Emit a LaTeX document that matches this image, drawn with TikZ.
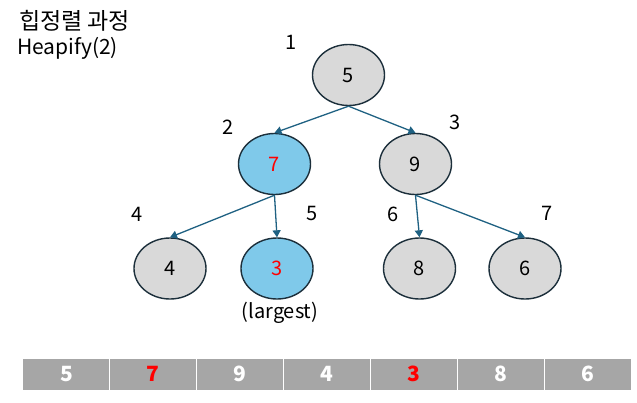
\documentclass[tikz,border=0pt]{standalone}
\usepackage{fontspec}
\setmainfont{Noto Sans CJK KR}
\usetikzlibrary{arrows.meta,shapes.geometric}
\definecolor{nodegray}{HTML}{D9D9D9}
\definecolor{nodeblue}{HTML}{7FC9EA}
\definecolor{rimcol}{HTML}{1C2F3B}
\definecolor{edgecol}{HTML}{1F6182}
\definecolor{cellgray}{HTML}{A6A6A6}
\tikzset{
  heapnode/.style={ellipse, draw=rimcol, line width=1.4pt, fill=nodegray,
    minimum width=72pt, minimum height=61pt, inner sep=0pt, font=\fontsize{20}{24}\selectfont},
  hinode/.style={heapnode, fill=nodeblue, text=red},
  idxlabel/.style={font=\fontsize{20}{24}\selectfont, inner sep=0pt},
  heapedge/.style={draw=edgecol, line width=1.3pt, -{Triangle[length=7pt,width=8pt]}},
  arrcell/.style={fill=cellgray, draw=white, line width=1pt, minimum width=87pt, minimum height=32pt,
    inner sep=0pt, text=white, font=\fontsize{21}{24}\selectfont\bfseries},
}
\begin{document}
\begin{tikzpicture}[x=1pt,y=-1pt]
\useasboundingbox (0,0) rectangle (637,402);
% title
\node[anchor=west, inner sep=0pt, font=\fontsize{23}{26}\selectfont] (title) at (19,21) {힙정렬 과정};
\node[anchor=west, inner sep=0pt, font=\fontsize{21}{24}\selectfont] (sub) at (17,48) {Heapify(2)};
% nodes
\node[heapnode] (n1) at (348.5,75) {5};
\node[hinode] (n2) at (274.5,164) {7};
\node[heapnode] (n3) at (415.5,164) {9};
\node[heapnode] (n4) at (170,268.5) {4};
\node[hinode] (n5) at (277,268.5) {3};
\node[heapnode] (n6) at (419.5,268.5) {8};
\node[heapnode] (n7) at (525,268.5) {6};
% index labels
\node[idxlabel] (l1) at (291,42) {1};
\node[idxlabel] (l2) at (228,127) {2};
\node[idxlabel] (l3) at (455,122) {3};
\node[idxlabel] (l4) at (137,214) {4};
\node[idxlabel] (l5) at (312,213) {5};
\node[idxlabel] (l6) at (393,214) {6};
\node[idxlabel] (l7) at (547,213) {7};
\node[idxlabel] (lg) at (280,313) {(largest)};
% edges
\draw[heapedge] (n1.south) -- (n2.north);
\draw[heapedge] (n1.south) -- (n3.north);
\draw[heapedge] (n2.south) -- (n4.north);
\draw[heapedge] (n2.south) -- (n5.north);
\draw[heapedge] (n3.south) -- (n6.north);
\draw[heapedge] (n3.south) -- (n7.north);
% array
\node[arrcell] (a1) at (66.4,374) {5};
\node[arrcell, text=red] (a2) at (153.3,374) {7};
\node[arrcell] (a3) at (240.1,374) {9};
\node[arrcell] (a4) at (327,374) {4};
\node[arrcell, text=red] (a5) at (413.9,374) {3};
\node[arrcell] (a6) at (500.7,374) {8};
\node[arrcell] (a7) at (587.6,374) {6};
\end{tikzpicture}
\end{document}
